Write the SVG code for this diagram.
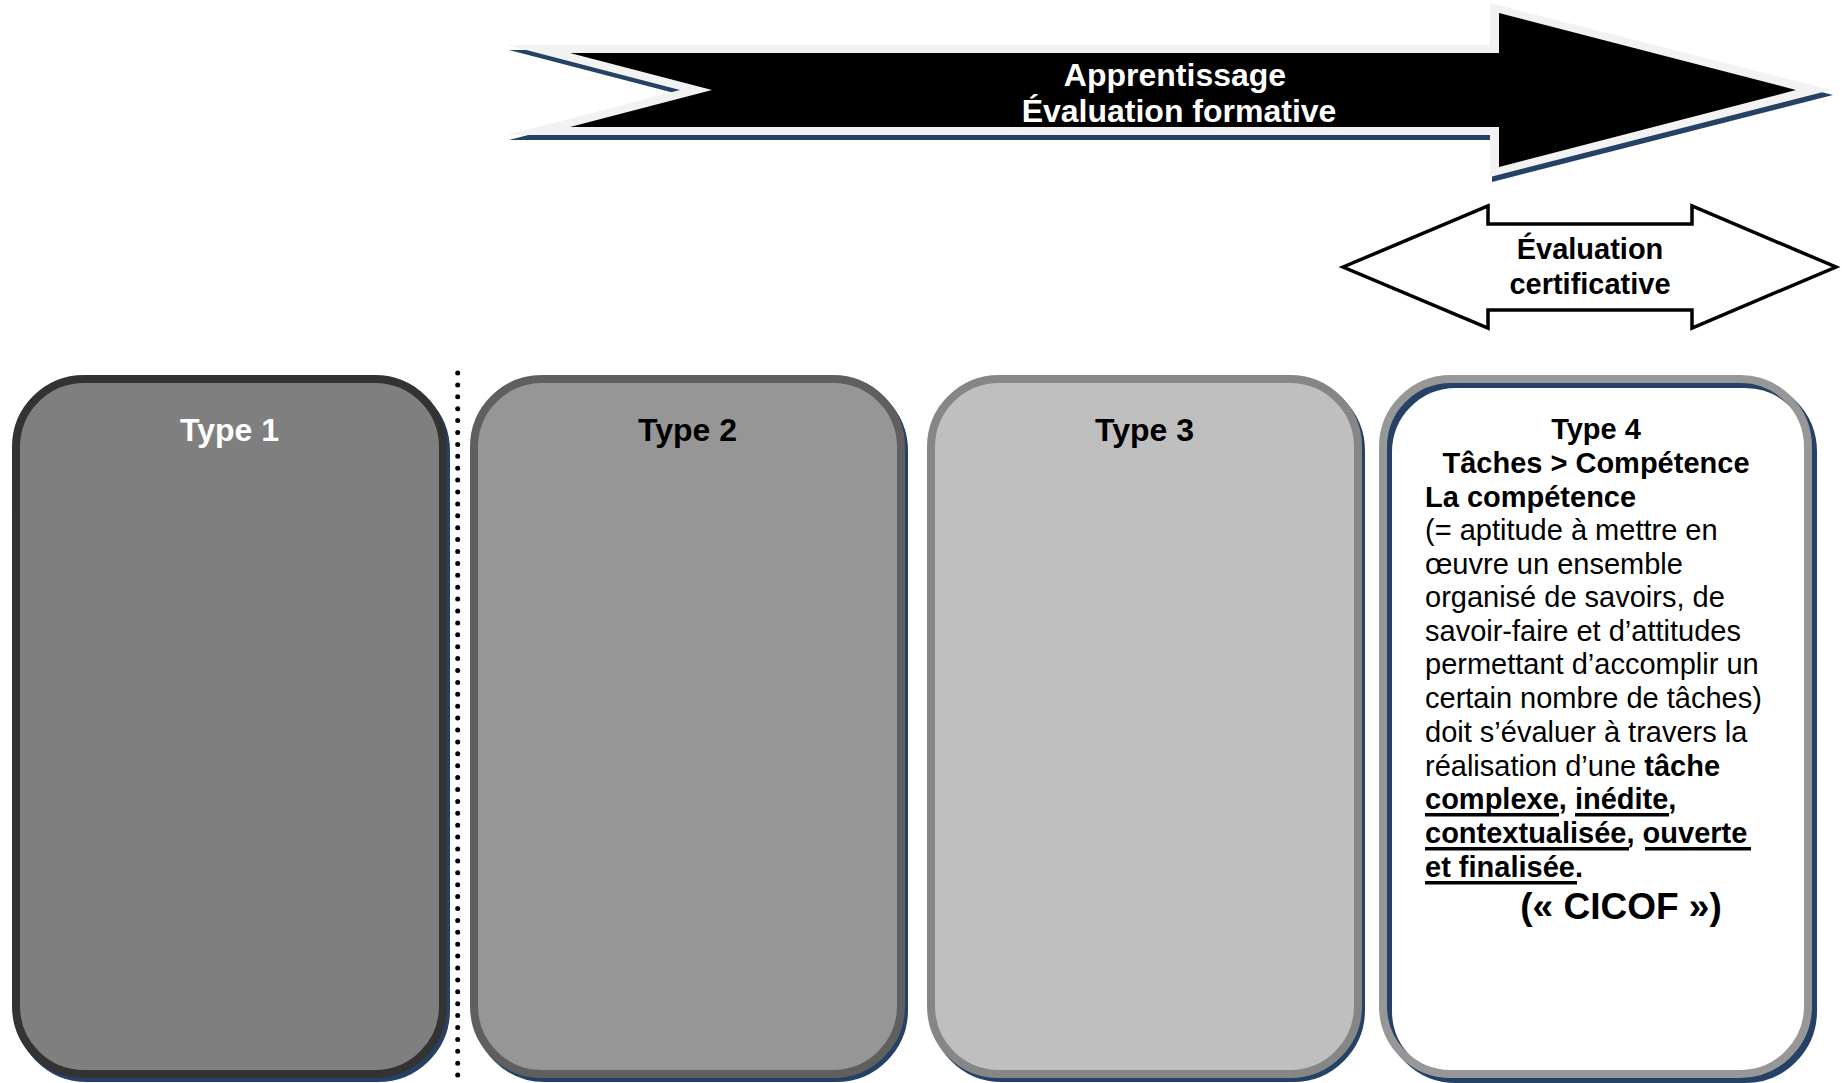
<svg xmlns="http://www.w3.org/2000/svg" width="1842" height="1083" viewBox="0 0 1842 1083">
<style>
  .t { font-family: "Liberation Sans", Arial, sans-serif; }
  .b { font-weight: bold; }
  .lbl { font-family: "Liberation Sans", Arial, sans-serif; font-weight: bold; font-size: 32px; text-anchor: middle; }
  .body { font-family: "Liberation Sans", Arial, sans-serif; font-size: 29px; fill: #000; }
  .shadow { fill: #264166; stroke: #264166; stroke-width: 8; }
  .shadow-line { fill: none; stroke: #264166; stroke-width: 8; }
  .ul { fill: #000; }
</style>
<rect x="0" y="0" width="1842" height="1083" fill="#ffffff"/>

<g id="arrow-apprentissage">
  <path d="M507,45 L1490,45 L1490,3 L1831,90 L1490,177 L1490,135 L507,135 L680,90 Z" fill="#264166" transform="translate(2,5)"/>
  <path d="M507,45 L1490,45 L1490,3 L1831,90 L1490,177 L1490,135 L507,135 L680,90 Z" fill="#f2f2f2"/>
  <path d="M570,53 L1499,53 L1499,13 L1796,90 L1499,167 L1499,127 L570,127 L712,90 Z" fill="#000000"/>
  <text class="t b" font-size="32" fill="#ffffff" text-anchor="middle" x="1175" y="86">Apprentissage</text>
  <text class="t b" font-size="32" fill="#ffffff" text-anchor="middle" x="1179" y="122">Évaluation formative</text>
</g>

<g id="arrow-certificative">
  <path d="M1343,267 L1488,206 L1488,224 L1692,224 L1692,206 L1836,267 L1692,328 L1692,310 L1488,310 L1488,328 Z" fill="#ffffff" stroke="#000000" stroke-width="3.5" stroke-linejoin="miter"/>
  <text class="t b" font-size="29" fill="#000" text-anchor="middle" x="1590" y="259">Évaluation</text>
  <text class="t b" font-size="29" fill="#000" text-anchor="middle" x="1590" y="294">certificative</text>
</g>

<g id="separator">
  <line x1="457.7" y1="373" x2="457.7" y2="1083" stroke="#000" stroke-width="5" stroke-linecap="round" stroke-dasharray="0 11.9"/>
</g>

<g id="type1">
  <rect class="shadow" x="19" y="383" width="427" height="695" rx="68" ry="68"/>
  <rect x="16" y="379" width="427" height="695" rx="68" ry="68" fill="#7f7f7f" stroke="#333333" stroke-width="8"/>
  <text class="lbl" fill="#ffffff" x="229.5" y="441">Type 1</text>
</g>

<g id="type2">
  <rect class="shadow" x="477" y="383" width="427" height="695" rx="68" ry="68"/>
  <rect x="474" y="379" width="427" height="695" rx="68" ry="68" fill="#969696" stroke="#5f5f5f" stroke-width="8"/>
  <text class="lbl" fill="#000000" x="687.5" y="441">Type 2</text>
</g>

<g id="type3">
  <rect class="shadow" x="934" y="383" width="427" height="695" rx="68" ry="68"/>
  <rect x="931" y="379" width="427" height="695" rx="68" ry="68" fill="#bfbfbf" stroke="#868686" stroke-width="8"/>
  <text class="lbl" fill="#000000" x="1144.5" y="441">Type 3</text>
</g>

<g id="type4">
  <rect class="shadow-line" x="1388" y="384" width="425" height="695" rx="68" ry="68"/>
  <rect x="1383" y="379" width="425" height="695" rx="68" ry="68" fill="none" stroke="#979797" stroke-width="8"/>
  <text class="t b" font-size="29" text-anchor="middle" x="1596" y="439">Type 4</text>
  <text class="t b" font-size="29" text-anchor="middle" x="1596" y="473">Tâches &gt; Compétence</text>
  <text class="t b" font-size="29" x="1425" y="507">La compétence</text>
  <text class="body" x="1425" y="540">(= aptitude à mettre en</text>
  <text class="body" x="1425" y="574">œuvre un ensemble</text>
  <text class="body" x="1425" y="607">organisé de savoirs, de</text>
  <text class="body" x="1425" y="641">savoir-faire et d’attitudes</text>
  <text class="body" x="1425" y="674">permettant d’accomplir un</text>
  <text class="body" x="1425" y="708">certain nombre de tâches)</text>
  <text class="body" x="1425" y="742">doit s’évaluer à travers la</text>
  <text class="body" x="1425" y="776">réalisation d’une <tspan class="b">tâche</tspan></text>
  <text class="body b" x="1425" y="809">complexe, inédite,</text>
  <text class="body b" x="1425" y="843">contextualisée, ouverte</text>
  <text class="body b" x="1425" y="877">et finalisée.</text>
  <rect class="ul" x="1425" y="813" width="134" height="3.5"/>
  <rect class="ul" x="1575" y="813" width="94" height="3.5"/>
  <rect class="ul" x="1425" y="847" width="204" height="3.5"/>
  <rect class="ul" x="1645" y="847" width="106" height="3.5"/>
  <rect class="ul" x="1425" y="881" width="152" height="3.5"/>
  <text class="t b" font-size="37" text-anchor="middle" x="1621" y="919">(« CICOF »)</text>
</g>
</svg>
